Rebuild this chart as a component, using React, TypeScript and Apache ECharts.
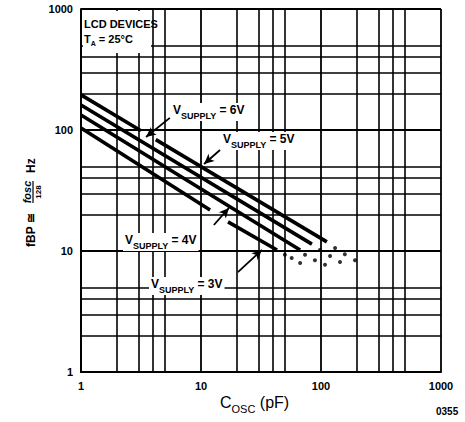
import React, { useEffect, useRef } from 'react';
import * as echarts from 'echarts';

// ---- data ----
const axisMin = 1;
const axisMax = 1000;
const gridX = [2, 3, 4, 5, 20, 30, 40, 50, 200, 300, 400, 500];
const gridY = [2, 3, 4, 5, 20, 30, 40, 50, 200, 300, 400, 500];

// solid curve segments per supply voltage ([Cosc pF, fBP Hz])
const v6Segments = [
  [[1, 195], [3.16, 98.5]],
  [[4.2, 83.3], [112, 11.9]],
];
const v5Segments = [[[1, 161], [84, 11.4]]];
const v4Segments = [[[1, 133], [67, 10.2]]];
const v3Segments = [
  [[1, 104], [11.9, 21.8]],
  [[16.8, 17.4], [43, 10.2]],
];
// dotted extrapolations
const v6Dots = [[131, 10.6], [158, 9.4], [192, 8.4]];
const v5Dots = [[98, 10.2], [119, 9.1], [144, 8.1]];
const v4Dots = [[73.6, 9.3], [89, 8.4], [108, 7.7]];
const v3Dots = [[50, 9.3], [57, 8.75], [67, 7.95]];

// label arrows: [tail, tip]
const arrow6 = [[5.5, 126], [3.48, 87.5]];
const arrow5 = [[14.4, 68.4], [10.6, 52.4]];
const arrow4 = [[12.8, 16.4], [17.1, 22.7]];
const arrow3 = [[20.3, 6.7], [32.2, 10.2]];

const FONT = "'Liberation Sans', Arial, sans-serif";

const supplyRich = {
  v: { fontSize: 12, fontWeight: 'bold', fontFamily: FONT, fill: '#000', verticalAlign: 'top', lineHeight: 16 },
  s: { fontSize: 9, fontWeight: 'bold', fontFamily: FONT, fill: '#000', verticalAlign: 'bottom', lineHeight: 16 },
  n: { fontSize: 12, fontWeight: 'bold', fontFamily: FONT, fill: '#000', verticalAlign: 'top', lineHeight: 16 },
};

function supplyLabel(volt: string, x: number, y: number) {
  return {
    type: 'text',
    x,
    y,
    z: 20,
    style: {
      text: `{v|V}{s|SUPPLY}{n| = ${volt}}`,
      rich: supplyRich,
      backgroundColor: '#fff',
      padding: [1, 2, 1, 2],
      verticalAlign: 'middle',
      align: 'left',
    },
  };
}

export default function App() {
  const ref = useRef<HTMLDivElement>(null);
  useEffect(() => {
    if (!ref.current) return;
    const chart = echarts.init(ref.current, null, { renderer: 'svg' });
    const solid = { color: '#000', width: 3.6 };
    const series: any[] = [];
    // grid helper
    series.push({
      type: 'line',
      data: [],
      z: 1,
      silent: true,
      markLine: {
        silent: true,
        symbol: 'none',
        animation: false,
        label: { show: false },
        lineStyle: { color: '#000', width: 1.6, type: 'solid' },
        data: [
          ...gridX.map((v) => ({ xAxis: v })),
          ...gridY.map((v) => ({ yAxis: v })),
        ],
      },
    });
    [v6Segments, v5Segments, v4Segments, v3Segments].forEach((segs) => {
      segs.forEach((seg) => {
        series.push({ type: 'line', data: seg, symbol: 'none', lineStyle: solid, z: 5, silent: true });
      });
    });
    [v6Dots, v5Dots, v4Dots, v3Dots].forEach((dots) => {
      series.push({ type: 'scatter', data: dots, symbol: 'circle', symbolSize: 4, itemStyle: { color: '#000' }, z: 5, silent: true });
    });
    series.push({
      type: 'line',
      data: [],
      z: 6,
      silent: true,
      markLine: {
        silent: true,
        symbol: ['none', 'arrow'],
        symbolSize: [7, 10],
        label: { show: false },
        lineStyle: { color: '#000', width: 1.8, type: 'solid' },
        data: [arrow6, arrow5, arrow4, arrow3].map((a) => [{ coord: a[0] }, { coord: a[1] }]),
      },
    });

    const axisCommon = {
      type: 'log',
      logBase: 10,
      min: axisMin,
      max: axisMax,
      axisLine: { show: true, lineStyle: { color: '#000', width: 2 } },
      axisTick: { show: false },
      splitLine: { show: true, lineStyle: { color: '#000', width: 1.8 } },
      minorSplitLine: { show: false },
    };
    const labelStyle = {
      color: '#000', fontSize: 11, fontWeight: 'bold', fontFamily: FONT, margin: 8,
      formatter: (v: number) => String(Math.round(v)),
    };

    chart.setOption({
      animation: false,
      backgroundColor: '#fff',
      grid: { left: 81, right: 24, top: 9, bottom: 50, show: false },
      xAxis: { ...axisCommon, axisLabel: labelStyle },
      yAxis: { ...axisCommon, axisLabel: labelStyle },
      series,
      graphic: [
        { type: 'rect', shape: { x: 83, y: 11, width: 68, height: 42 }, style: { fill: '#fff' }, z: 15 },
        {
          type: 'text', x: 84, y: 24, z: 20,
          style: { text: 'LCD DEVICES', fontSize: 11, fontWeight: 'bold', fontFamily: FONT, fill: '#000', verticalAlign: 'middle' },
        },
        {
          type: 'text', x: 84, y: 40, z: 20,
          style: {
            text: '{v|T}{s|A}{n| = 25°C}',
            verticalAlign: 'middle',
            rich: {
              v: { fontSize: 11, fontWeight: 'bold', fontFamily: FONT, fill: '#000', verticalAlign: 'top', lineHeight: 14 },
              s: { fontSize: 7, fontWeight: 'bold', fontFamily: FONT, fill: '#000', verticalAlign: 'bottom', lineHeight: 14 },
              n: { fontSize: 11, fontWeight: 'bold', fontFamily: FONT, fill: '#000', verticalAlign: 'top', lineHeight: 14 },
            },
          },
        },
        supplyLabel('6V', 171, 112),
        supplyLabel('5V', 221, 141),
        supplyLabel('4V', 123, 242),
        supplyLabel('3V', 149, 286),
        {
          type: 'text', x: 220, y: 404, z: 20,
          style: {
            text: '{v|C}{s|OSC}{n| (pF)}',
            verticalAlign: 'middle',
            rich: {
              v: { fontSize: 16, fontFamily: FONT, fill: '#000', verticalAlign: 'top', lineHeight: 20 },
              s: { fontSize: 11, fontFamily: FONT, fill: '#000', verticalAlign: 'bottom', lineHeight: 20 },
              n: { fontSize: 16, fontFamily: FONT, fill: '#000', verticalAlign: 'top', lineHeight: 20 },
            },
          },
        },
        {
          type: 'text', x: 436, y: 411, z: 20,
          style: { text: '0355', fontSize: 10, fontWeight: 'bold', fontFamily: FONT, fill: '#000', verticalAlign: 'middle' },
        },
        {
          type: 'group', x: 33, y: 197, rotation: Math.PI / 2, z: 20,
          children: [
            { type: 'text', x: -50, y: -2, style: { text: 'fBP ≅', fontSize: 12, fontWeight: 'bold', fontFamily: FONT, fill: '#000', verticalAlign: 'middle', align: 'left' } },
            { type: 'text', x: 5, y: -6, style: { text: 'fosc', fontSize: 11, fontStyle: 'italic', fontWeight: 'bold', fontFamily: FONT, fill: '#000', verticalAlign: 'middle', align: 'center' } },
            { type: 'line', shape: { x1: -6, y1: 0, x2: 16, y2: 0 }, style: { stroke: '#000', lineWidth: 1.2 } },
            { type: 'text', x: 5, y: 5, style: { text: '128', fontSize: 8, fontWeight: 'bold', fontFamily: FONT, fill: '#000', verticalAlign: 'middle', align: 'center' } },
            { type: 'text', x: 24, y: -2, style: { text: 'Hz', fontSize: 12, fontWeight: 'bold', fontFamily: FONT, fill: '#000', verticalAlign: 'middle', align: 'left' } },
          ],
        },
      ],
    });
    return () => chart.dispose();
  }, []);
  return (
    <div
      ref={ref}
      style={{ position: 'fixed', left: 0, top: 0, width: 465, height: 422, background: '#fff' }}
    />
  );
}
